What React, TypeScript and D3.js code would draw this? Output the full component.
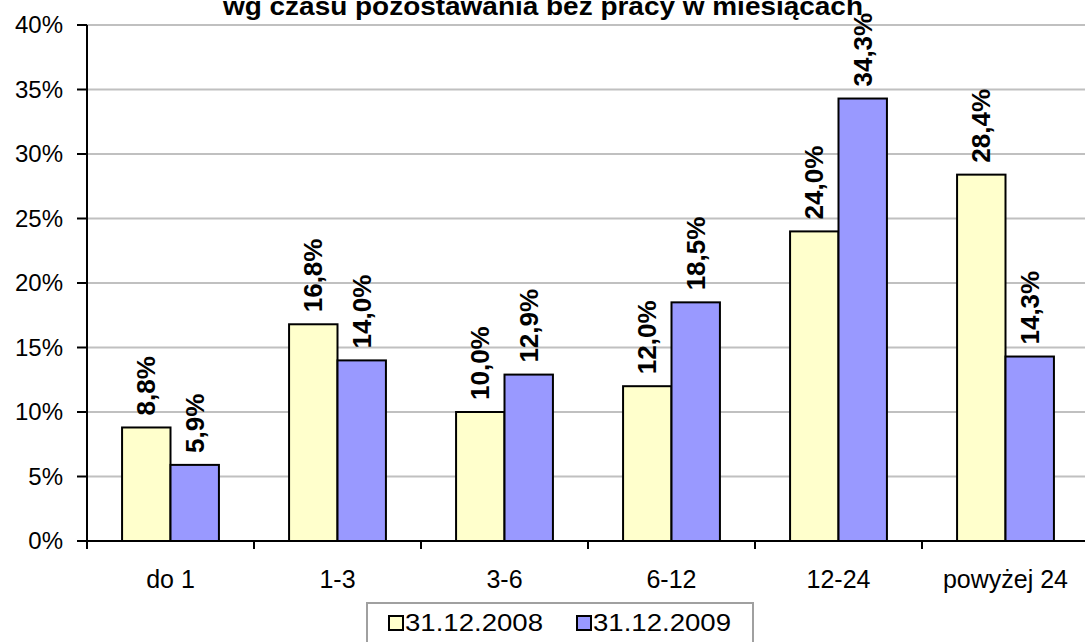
import React from 'react';
import * as d3 from 'd3';

const title = 'wg czasu pozostawania bez pracy w miesiącach';
const categories = ['do 1', '1-3', '3-6', '6-12', '12-24', 'powyżej 24'];
const seriesNames = ['31.12.2008', '31.12.2009'];
const values2008 = [8.8, 16.8, 10.0, 12.0, 24.0, 28.4];
const values2009 = [5.9, 14.0, 12.9, 18.5, 34.3, 14.3];
const yTicks = [0, 5, 10, 15, 20, 25, 30, 35, 40];
const colors = ['#FFFFCC', '#9999FF'];

const W = 1085;
const H = 642;
const margin = { top: 25, left: 87 };
const plotW = 1002;
const plotH = 516;

const fmt = (v: number) => v.toFixed(1).replace('.', ',') + '%';

const App: React.FC = () => {
  const x = d3.scaleBand().domain(categories).range([0, plotW]).paddingInner(0).paddingOuter(0);
  const y = d3.scaleLinear().domain([0, 40]).range([plotH, 0]);
  const bw = x.bandwidth() * 0.29;
  const series = [values2008, values2009];

  return (
    <svg width={W} height={H} style={{ position: 'absolute', left: 0, top: 0, background: '#fff' }}
      fontFamily="Arial, 'Liberation Sans', sans-serif">
      <text x={543} y={15} textAnchor="middle" fontSize={26} fontWeight="bold"
        textLength={640} lengthAdjust="spacingAndGlyphs">{title}</text>
      <g transform={`translate(${margin.left},${margin.top})`}>
        {yTicks.map(t => (
          <g key={t}>
            {t > 0 && <line x1={0} x2={plotW} y1={y(t)} y2={y(t)} stroke="#C0C0C0" strokeWidth={2} />}
            <line x1={-10} x2={0} y1={y(t)} y2={y(t)} stroke="#000" strokeWidth={2} />
            <text x={-24} y={y(t)} dy="0.35em" textAnchor="end" fontSize={24}>{t}%</text>
          </g>
        ))}
        {categories.map((c, i) => (
          <g key={c}>
            {series.map((s, j) => {
              const bx = x(c)! + x.bandwidth() / 2 - bw + j * bw;
              const by = y(s[i]);
              return (
                <g key={j}>
                  <rect x={bx} y={by} width={bw} height={plotH - by} fill={colors[j]} stroke="#000" strokeWidth={2} />
                  <text transform={`translate(${bx + bw / 2},${by - 12}) rotate(-90)`} dy="0.35em"
                    fontSize={26} fontWeight="bold">{fmt(s[i])}</text>
                </g>
              );
            })}
            <text x={x(c)! + x.bandwidth() / 2} y={plotH + 47} textAnchor="middle" fontSize={25}>{c}</text>
          </g>
        ))}
        {categories.concat(['']).map((_, i) => (
          <line key={i} x1={i * x.bandwidth()} x2={i * x.bandwidth()} y1={plotH} y2={plotH + 8} stroke="#000" strokeWidth={2} />
        ))}
        <line x1={0} x2={0} y1={0} y2={plotH} stroke="#000" strokeWidth={2} />
        <line x1={0} x2={plotW} y1={plotH} y2={plotH} stroke="#000" strokeWidth={2} />
      </g>
      <g transform="translate(367,603)">
        <rect x={0} y={0} width={386} height={50} fill="#fff" stroke="#A0A0A0" strokeWidth={2} />
        {seriesNames.map((n, j) => (
          <g key={n} transform={`translate(${j * 188 + 22},0)`}>
            <rect x={0} y={13} width={14} height={14} fill={colors[j]} stroke="#000" strokeWidth={2} />
            <text x={16} y={28} fontSize={23} textLength={138} lengthAdjust="spacingAndGlyphs">{n}</text>
          </g>
        ))}
      </g>
    </svg>
  );
};

export default App;
